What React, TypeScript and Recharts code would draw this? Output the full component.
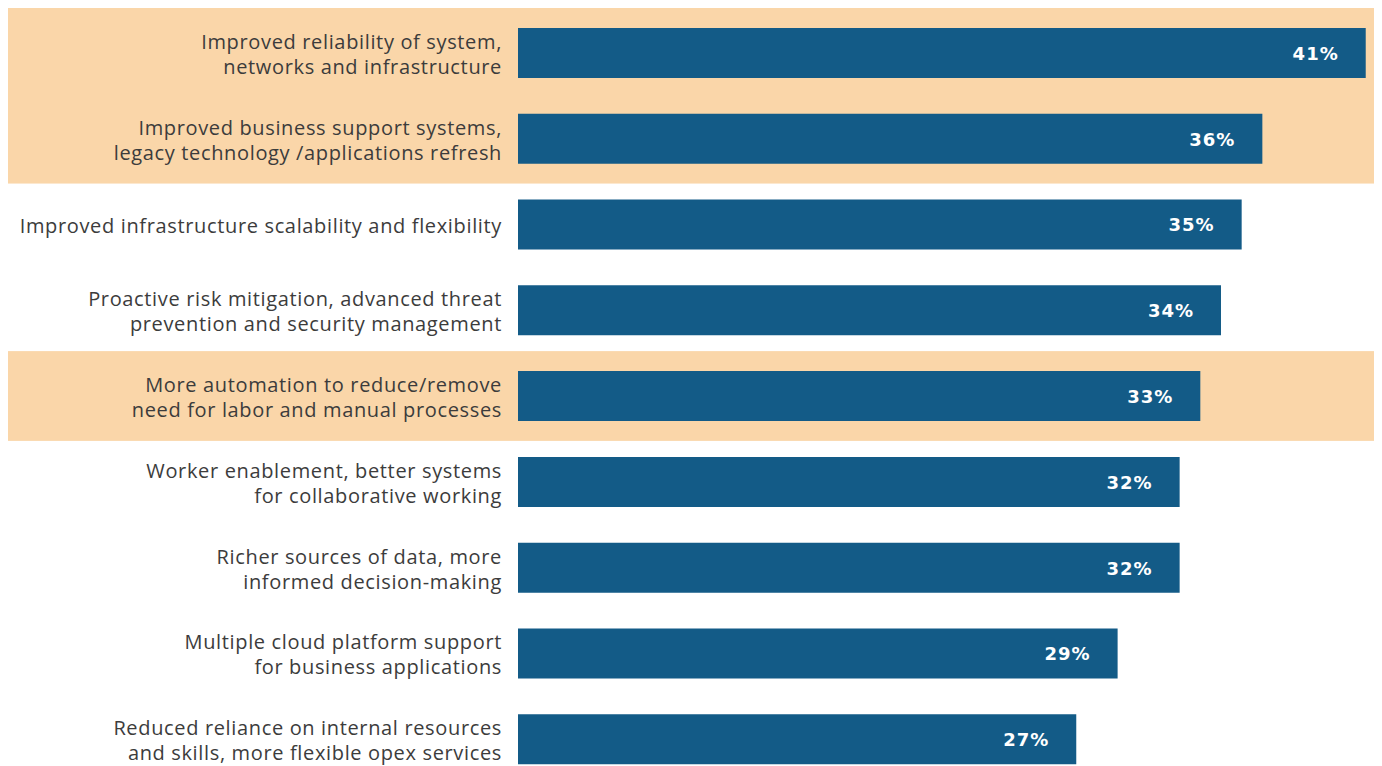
import React from 'react';
import { BarChart, Bar, XAxis, YAxis, ReferenceArea, LabelList } from 'recharts';

const categories: string[] = [
  'Improved reliability of system,\nnetworks and infrastructure',
  'Improved business support systems,\nlegacy technology /applications refresh',
  'Improved infrastructure scalability and flexibility',
  'Proactive risk mitigation, advanced threat\nprevention and security management',
  'More automation to reduce/remove\nneed for labor and manual processes',
  'Worker enablement, better systems\nfor collaborative working',
  'Richer sources of data, more\ninformed decision-making',
  'Multiple cloud platform support\nfor business applications',
  'Reduced reliance on internal resources\nand skills, more flexible opex services',
];
const values: number[] = [41, 36, 35, 34, 33, 32, 32, 29, 27];
const highlightRanges: [number, number][] = [[0, 1], [4, 4]];

const data = categories.map((c, i) => ({ name: c, value: values[i] }));

const BAR_COLOR = '#135B87';
const HIGHLIGHT = '#FAD6A9';
const TEXT_COLOR = '#3C3C3C';
const FONT = '"Open Sans", sans-serif';

const Tick = (props: any) => {
  const { x, y, payload } = props;
  const lines = String(payload.value).split('\n');
  const lh = 25;
  const start = -((lines.length - 1) * lh) / 2;
  return (
    <text x={x} y={y} textAnchor="end" fill={TEXT_COLOR} fontFamily={FONT} fontSize={20}
      letterSpacing={0.65}>
      {lines.map((l, i) => (
        <tspan key={i} x={x} y={y + start + i * lh} dy="0.43em">{l}</tspan>
      ))}
    </text>
  );
};

const ValueLabel = (props: any) => {
  const { x, y, width, height, value } = props;
  return (
    <text x={x + width - 27} y={y + height / 2} dy="0.38em" textAnchor="end" fill="#fff"
      fontFamily='"DejaVu Sans", sans-serif' fontWeight={700} fontSize={18} letterSpacing={1}>
      {value}%
    </text>
  );
};

const HighlightShape = (props: any) => {
  const { x, y, width, height } = props;
  return <rect x={0} y={y - 2} width={x + width} height={height + 4} fill={HIGHLIGHT} />;
};

export default function App() {
  return (
    <div style={{ width: 1366, height: 758, overflow: 'hidden' }}>
      <BarChart width={1366} height={774} data={data} layout="vertical"
        margin={{ top: 2, right: 0, bottom: 0, left: 0 }}>
        {highlightRanges.map(([a, b], i) => (
          <ReferenceArea key={i} y1={categories[a]} y2={categories[b]} ifOverflow="visible"
            shape={HighlightShape} />
        ))}
        <XAxis type="number" domain={[0, 41.4]} hide />
        <YAxis type="category" dataKey="name" width={510} axisLine={false} tickLine={false}
          tick={<Tick />} tickMargin={10} interval={0} />
        <Bar dataKey="value" fill={BAR_COLOR} barSize={50} isAnimationActive={false}>
          <LabelList dataKey="value" content={<ValueLabel />} />
        </Bar>
      </BarChart>
    </div>
  );
}
